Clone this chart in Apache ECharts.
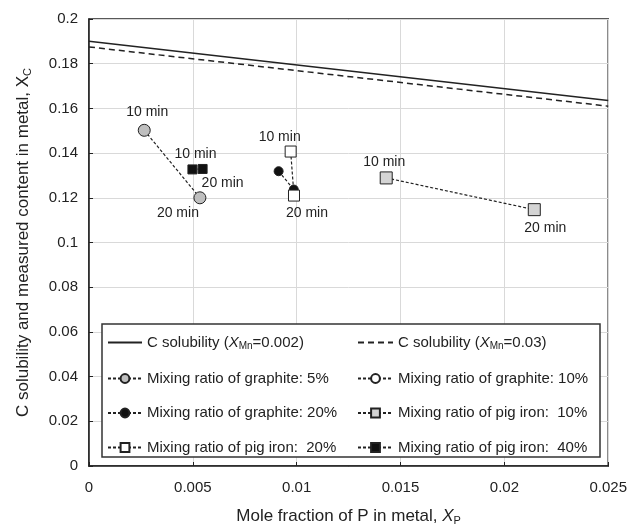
<!DOCTYPE html>
<html>
<head>
<meta charset="utf-8">
<script src="https://cdn.jsdelivr.net/npm/echarts@6/dist/echarts.min.js"></script>
<style>
  html, body { margin: 0; padding: 0; background: #fff; }
  #chart { width: 630px; height: 531px; }
</style>
</head>
<body>
<div id="chart"></div>
<script>
// values: [XP, XC]
var solMn002 = [[0, 0.1900], [0.025, 0.1635]]
var solMn03 = [[0, 0.1875], [0.025, 0.1610]]
var graphite5 = [[0.00266, 0.1502], [0.00534, 0.1200]]
var graphite10 = [[0.00987, 0.1215], [0.00987, 0.1212]]
var graphite20 = [[0.00913, 0.1319], [0.00986, 0.1237]]
var pig10 = [[0.01431, 0.1289], [0.02144, 0.1147]]
var pig20 = [[0.00971, 0.1407], [0.00987, 0.1210]]
var pig40 = [[0.00498, 0.1327], [0.00547, 0.1329]]
var timeTags = ['10 min', '20 min']
var xTicks = { min: 0, max: 0.025, step: 0.005 }
var yTicks = { min: 0, max: 0.2, step: 0.02 }

var FONT = 'Liberation Sans'

// where the "10 min" / "20 min" tags sit around each point
function tagged(points, place) {
    return points.map(function (p, i) {
        if (!place) return { value: p }
        return {
            value: p,
            label: {
                show: true,
                formatter: timeTags[i],
                position: place[i][0],
                offset: place[i][1],
                distance: place[i][2] == null ? 5 : place[i][2],
                color: '#222',
                fontSize: 14,
                fontFamily: FONT
            }
        }
    })
}

function markerSeries(name, points, symbol, size, fill, place) {
    return {
        name: name,
        type: 'line',
        data: tagged(points, place),
        symbol: symbol,
        symbolSize: size,
        showSymbol: true,
        lineStyle: { color: '#222', width: 1.2, type: [3, 2] },
        itemStyle: { color: fill, borderColor: '#222', borderWidth: 1 },
        emphasis: { disabled: true }
    }
}

var names = {
    s1: 'C solubility (XMn=0.002)',
    s2: 'C solubility (XMn=0.03)',
    g5: 'Mixing ratio of graphite: 5%',
    g10: 'Mixing ratio of graphite: 10%',
    g20: 'Mixing ratio of graphite: 20%',
    p10: 'Mixing ratio of pig iron:  10%',
    p20: 'Mixing ratio of pig iron:  20%',
    p40: 'Mixing ratio of pig iron:  40%'
}

function rich(size) {
    return {
        t: { fontSize: size, fontFamily: FONT, color: '#222' },
        i: { fontSize: size, fontFamily: FONT, color: '#222', fontStyle: 'italic' },
        s: { fontSize: Math.round(size * 0.65), fontFamily: FONT, color: '#222', padding: [Math.round(size * 0.55), 0, 0, 0] }
    }
}

function legendLabel(name) {
    if (name === names.s1) return '{t|C solubility (}{i|X}{s|Mn}{t|=0.002)}'
    if (name === names.s2) return '{t|C solubility (}{i|X}{s|Mn}{t|=0.03)}'
    return '{t|' + name + '}'
}

// solubility lines get no marker in the legend
function legendItem(name) {
    if (name === names.s1 || name === names.s2) {
        return { name: name, itemStyle: { color: 'rgba(0,0,0,0)', borderColor: 'rgba(0,0,0,0)', borderWidth: 0 } }
    }
    return { name: name }
}

function legendCol(left, width, data) {
    return {
        data: data.map(legendItem),
        orient: 'vertical',
        left: left,
        top: 335,
        padding: 0,
        itemWidth: width,
        itemHeight: 11,
        itemGap: 19.5,
        selectedMode: false,
        formatter: legendLabel,
        textStyle: { rich: rich(15), fontSize: 15, fontFamily: FONT, color: '#222' }
    }
}

var chart = echarts.init(document.getElementById('chart'), null, { renderer: 'canvas' })
chart.setOption({
    animation: false,
    backgroundColor: '#fff',
    grid: {
        left: 89, right: 21, top: 19, bottom: 62,
        show: true, borderColor: '#222', borderWidth: 1.5
    },
    xAxis: {
        type: 'value',
        min: xTicks.min, max: xTicks.max, interval: xTicks.step,
        name: '{t|Mole fraction of P in metal, }{i|X}{s|P}',
        nameLocation: 'middle',
        nameGap: 40,
        nameTextStyle: { rich: rich(17) },
        axisLine: { lineStyle: { color: '#222', width: 1.5 } },
        axisTick: { inside: true, length: 4, lineStyle: { color: '#222' } },
        axisLabel: { color: '#222', fontSize: 15, fontFamily: FONT, margin: 14 },
        splitLine: { lineStyle: { color: '#d9d9d9', width: 1 } }
    },
    yAxis: {
        type: 'value',
        min: yTicks.min, max: yTicks.max, interval: yTicks.step,
        name: '{t|C solubility and measured content in metal, X}{s|C}',
        nameLocation: 'middle',
        nameGap: 56,
        nameTextStyle: { rich: rich(17) },
        axisLine: { lineStyle: { color: '#222', width: 1.5 } },
        axisTick: { inside: true, length: 4, lineStyle: { color: '#222' } },
        axisLabel: { color: '#222', fontSize: 15, fontFamily: FONT, margin: 11 },
        splitLine: { lineStyle: { color: '#d9d9d9', width: 1 } }
    },
    graphic: [{
        type: 'rect',
        z: 3,
        shape: { x: 102, y: 324, width: 498, height: 133 },
        style: { fill: '#fff', stroke: '#333', lineWidth: 1.5 }
    }],
    legend: [
        legendCol(107, 34, [names.s1, names.g5, names.g20, names.p20]),
        legendCol(357, 35, [names.s2, names.g10, names.p10, names.p40])
    ],
    series: [
        {
            name: names.s1, type: 'line', data: solMn002, symbol: 'none',
            lineStyle: { color: '#222', width: 1.5, type: 'solid' }, itemStyle: { color: '#222' }
        },
        {
            name: names.s2, type: 'line', data: solMn03, symbol: 'none',
            lineStyle: { color: '#222', width: 1.5, type: [6, 4] }, itemStyle: { color: '#222' }
        },
        markerSeries(names.g5, graphite5, 'circle', 12, '#bfbfbf',
            [['top', [3, 0]], ['bottom', [-22, -3]]]),
        markerSeries(names.g10, graphite10, 'circle', 9, '#fff', null),
        markerSeries(names.g20, graphite20, 'circle', 9, '#111', null),
        markerSeries(names.p10, pig10, 'rect', 12, '#d4d4d4',
            [['top', [-2, 3]], ['bottom', [11, 0]]]),
        markerSeries(names.p20, pig20, 'rect', 11, '#fff',
            [['top', [-11, 0], 1], ['bottom', [13, 0]]]),
        markerSeries(names.p40, pig40, 'rect', 9, '#111',
            [['top', [3, 2]], ['bottom', [20, -3]]])
    ]
})
</script>
</body>
</html>
